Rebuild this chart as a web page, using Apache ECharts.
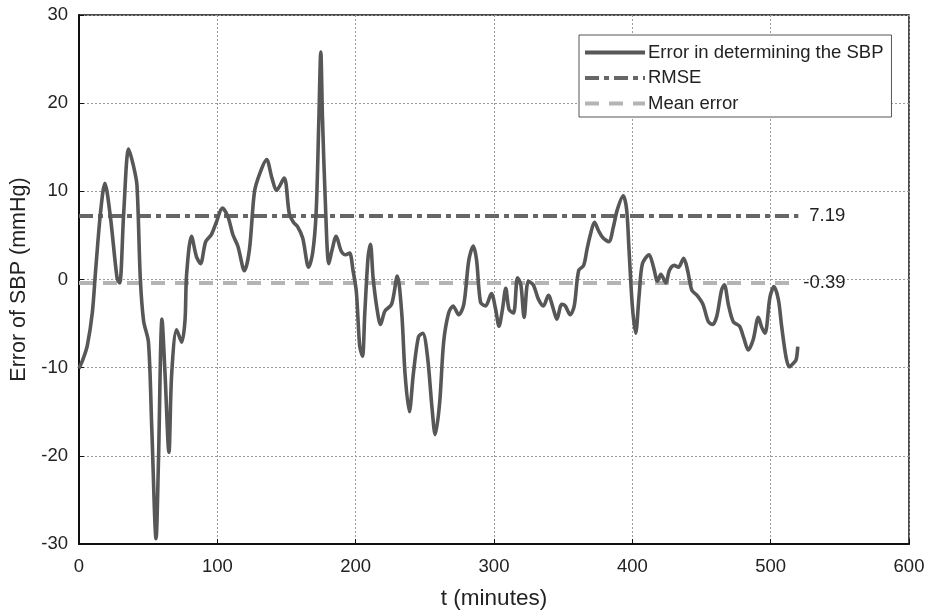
<!DOCTYPE html>
<html>
<head>
<meta charset="utf-8">
<script src="https://cdn.jsdelivr.net/npm/echarts@6/dist/echarts.min.js"></script>
<style>
html,body{margin:0;padding:0;background:#fff;}
#chart{width:925px;height:610px;}
</style>
</head>
<body>
<div id="chart"></div>
<script>
// ---- data ----
var tMinutes = [0,3,6,9.6,12,15.5,18.7,22.7,27.5,29.4,32.3,35.9,39.5,41.9,44.3,46.7,50.2,52.6,55.7,57.4,60,62.2,65,67,70.6,74.2,76.6,77.8,81.3,84.9,87.8,91.6,95.7,99.3,103.6,107.7,111.2,114.8,119.6,123.2,126.8,130.4,135.6,139.5,142.8,148.3,152,155,158,161.7,166,168.9,171.4,173.3,174.8,176,178,180.6,183,185.9,189.6,192.7,195.6,198.1,200.5,202.9,204.9,206.6,209,210.7,212.6,215.5,218,221.1,226,230.1,233.3,235.7,238.8,241.7,245.4,248.5,251.9,255.1,257.5,260.7,263.6,267.2,270.4,274.5,278.2,281.8,285,287.4,290.3,293.9,298.1,301.2,303.6,306.1,308.5,310.9,314.1,317,319.4,321.8,324.8,328.4,332,335.7,339.3,343,345.4,349,351.5,355.1,358,361.2,364.8,367.2,369.7,372.6,375.7,378.9,383,386.2,389.1,393.4,395.9,397.6,400,402.4,404.9,407.3,412.1,415.3,418.2,420.6,424.3,426.7,430.3,433.3,437.1,440,443,446.8,451,455,458,461,464.5,466.5,469.5,473,477.5,480.5,483.8,487.4,491.1,493.5,495.9,499.5,502.4,505.6,508,511.1,513.5,516.4,518.4,519.6];
var errorSBP = [-10.1,-9,-7.5,-3.8,1,7.5,10.9,7.1,0.2,-0.4,7.5,14.8,12.8,10.7,0.2,-4.7,-7.1,-16.8,-29.4,-20.9,-4.5,-10.7,-19.6,-10.7,-5.7,-7.1,-4.7,0.6,4.9,2.6,1.8,4.3,5.1,6.5,8.1,7.1,5.1,3.8,1.0,3.4,9.9,11.9,13.6,11.5,10.1,11.5,7.5,6.5,6.0,4.7,1.4,3,7.5,17.6,25.8,18.4,9.1,1.8,3.4,4.9,3.2,2.8,3,1,-1.4,-7.5,-8.7,-3.8,2.6,4,0.2,-3.4,-5.1,-3.6,-2.8,0.4,-3.8,-10.7,-15,-10.7,-6.5,-6.1,-8.7,-14.4,-17.6,-14,-7.1,-3.8,-3,-4,-2.8,2.2,3.8,2.2,-2.6,-3,-1.6,-3.4,-5.3,-3.4,-1,-3.4,-3.8,0.2,-0.6,-4.3,-0.2,-0.6,-2.2,-3,-1.8,-3.4,-4.5,-2.8,-3,-4,-3,1,1.6,3.4,5.1,6.5,5.5,4.7,4.3,5.9,7.9,9.5,7.9,3.4,-3,-6.1,-1.8,1.8,2.8,1.4,-0.2,0.6,-0.4,1,1.6,1.4,2.4,1,-1.2,-1.8,-2.8,-4.8,-5.1,-4.2,-1.2,-0.6,-2.9,-4.8,-5.3,-6.6,-8,-6.8,-4.3,-5.4,-6.1,-2,-0.8,-2.3,-5.4,-8.8,-9.9,-9.5,-9.1,-7.6];
var refSpan = [0, 520];
var rmseValue = 7.19;
var meanErrorValue = -0.39;
var seriesNames = ['Error in determining the SBP', 'RMSE', 'Mean error'];
var xTicks = [0, 100, 200, 300, 400, 500, 600];
var yTicks = [-30, -20, -10, 0, 10, 20, 30];

var errData = tMinutes.map(function (t, i) { return [t, errorSBP[i]]; });
var rmseData = refSpan.map(function (t) { return [t, rmseValue]; });
var meanData = refSpan.map(function (t) { return [t, meanErrorValue]; });

var font = 'Liberation Sans, Arial, sans-serif';
var chart = echarts.init(document.getElementById('chart'), null, {renderer: 'canvas'});
chart.setOption({
  animation: false,
  backgroundColor: '#fff',
  grid: {left: 79, right: 16, top: 15, bottom: 66, outerBoundsMode: 'none', containLabel: false,
         show: true, borderColor: '#111', borderWidth: 1.5, backgroundColor: 'transparent'},
  legend: {
    orient: 'vertical', left: 579, top: 35,
    data: seriesNames,
    itemWidth: 60, itemHeight: 14, itemGap: 6.5,
    padding: [8, 8, 4, 4],
    borderColor: '#555', borderWidth: 1, backgroundColor: '#fff',
    itemStyle: {opacity: 0},
    lineStyle: {width: 4},
    textStyle: {fontFamily: font, fontSize: 18.5, color: '#222', padding: [0, 0, 0, -2]}
  },
  xAxis: {
    type: 'value', min: xTicks[0], max: xTicks[xTicks.length - 1], interval: 100,
    name: 't (minutes)', nameLocation: 'middle', nameGap: 43,
    nameTextStyle: {fontFamily: font, fontSize: 22.5, color: '#222'},
    axisLine: {show: true, onZero: false, lineStyle: {color: '#111', width: 2}},
    axisTick: {show: true, inside: true, length: 5, lineStyle: {color: '#111'}},
    axisLabel: {fontFamily: font, fontSize: 18.5, color: '#222', margin: 13},
    splitLine: {show: true, lineStyle: {color: '#9a9a9a', type: [2, 2], width: 1}}
  },
  yAxis: {
    type: 'value', min: yTicks[0], max: yTicks[yTicks.length - 1], interval: 10,
    name: 'Error of SBP (mmHg)', nameLocation: 'middle', nameGap: 47, nameRotate: 90,
    nameTextStyle: {fontFamily: font, fontSize: 21.5, color: '#222'},
    axisLine: {show: true, onZero: false, lineStyle: {color: '#111', width: 2}},
    axisTick: {show: true, inside: true, length: 5, lineStyle: {color: '#111'}},
    axisLabel: {fontFamily: font, fontSize: 18.5, color: '#222', margin: 11},
    splitLine: {show: true, lineStyle: {color: '#9a9a9a', type: [2, 2], width: 1}}
  },
  series: [
    {
      name: seriesNames[2], type: 'line', data: meanData, showSymbol: false, symbol: 'none',
      lineStyle: {color: '#b4b4b4', width: 4, type: [14, 10]},
      itemStyle: {color: '#b4b4b4'},
      endLabel: {show: true, formatter: String(meanErrorValue), fontFamily: font, fontSize: 18.5, color: '#222', distance: 5}
    },
    {
      name: seriesNames[1], type: 'line', data: rmseData, showSymbol: false, symbol: 'none',
      lineStyle: {color: '#666', width: 4, type: [14, 5, 5, 5]},
      itemStyle: {color: '#666'},
      endLabel: {show: true, formatter: String(rmseValue), fontFamily: font, fontSize: 18.5, color: '#222', distance: 11}
    },
    {
      name: seriesNames[0], type: 'line', data: errData, showSymbol: false, symbol: 'none',
      smooth: 0.3, z: 5,
      lineStyle: {color: '#575757', width: 3.6},
      itemStyle: {color: '#575757'}
    }
  ]
});
</script>
</body>
</html>
